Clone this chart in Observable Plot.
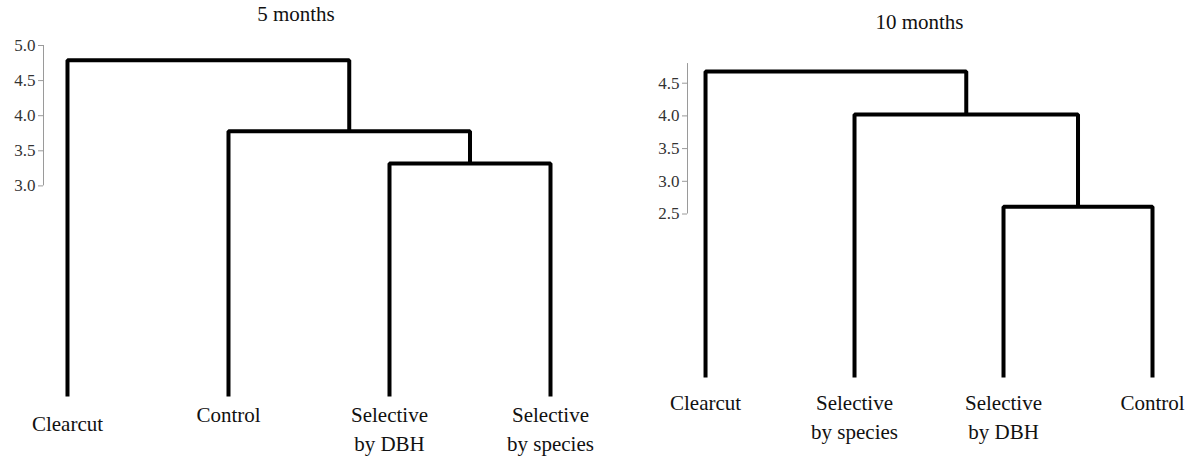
<!DOCTYPE html>
<html>
<head>
<meta charset="utf-8">
<script src="https://cdn.jsdelivr.net/npm/d3@7"></script>
<script src="https://cdn.jsdelivr.net/npm/@observablehq/plot@0.6"></script>
<style>
  html, body { margin: 0; padding: 0; background: #fff; font-family: 'Liberation Serif', serif; }
  #wrap { position: relative; width: 1194px; height: 456px; overflow: hidden; }
  #p5 { position: absolute; left: 0; top: 0; width: 597px; height: 456px; }
  #p10 { position: absolute; left: 597px; top: 0; width: 597px; height: 456px; }
  #titles { position: absolute; left: 0; top: 0; }
</style>
</head>
<body>
<div id="wrap">
  <div id="p5"></div>
  <div id="p10"></div>
  <svg id="titles" width="1194" height="40">
    <text id="t5" x="296" y="21" text-anchor="middle" font-family="Liberation Serif" font-size="21" fill="#111">5 months</text>
    <text id="t10" x="919.5" y="29" text-anchor="middle" font-family="Liberation Serif" font-size="21" fill="#111">10 months</text>
  </svg>
</div>
<script>
// ---- 5 months ----
const title5 = "5 months";
const leaves5 = ["Clearcut", "Control", "Selective\nby DBH", "Selective\nby species"];
const mergeA5 = [2, 1, 0];       // cluster ids (0..3 leaves, 4+ merged clusters)
const mergeB5 = [3, 4, 5];
const height5 = [3.32, 3.78, 4.79];
const ticks5 = [3.0, 3.5, 4.0, 4.5, 5.0];

// ---- 10 months ----
const title10 = "10 months";
const leaves10 = ["Clearcut", "Selective\nby species", "Selective\nby DBH", "Control"];
const mergeA10 = [2, 1, 0];
const mergeB10 = [3, 4, 5];
const height10 = [2.61, 4.02, 4.68];
const ticks10 = [2.5, 3.0, 3.5, 4.0, 4.5];
const axisTop10 = 4.8;

const SERIF = "Liberation Serif";

document.getElementById("t5").textContent = title5;
document.getElementById("t10").textContent = title10;

function buildLinks(leaves, mergeA, mergeB, heights) {
  const pos = leaves.map((_, i) => ({x: i, y: 0}));
  const rows = [];
  mergeA.forEach((a, k) => {
    const b = mergeB[k], h = heights[k];
    const A = pos[a], B = pos[b];
    rows.push({id: k, x: A.x, y: A.y}, {id: k, x: A.x, y: h},
              {id: k, x: B.x, y: h}, {id: k, x: B.x, y: B.y});
    pos.push({x: (A.x + B.x) / 2, y: h});
  });
  return rows;
}

function panel({leaves, mergeA, mergeB, heights, ticks, axisTop, xMin,
                marginLeft, marginRight, marginTop, marginBottom, labelDy, firstLabelDy}) {
  const links = buildLinks(leaves, mergeA, mergeB, heights);
  const leafRows = leaves.map((name, i) => ({name, i}));
  const special = firstLabelDy != null;
  return Plot.plot({
    width: 597,
    height: 456,
    marginLeft, marginRight, marginTop, marginBottom,
    x: {domain: [xMin, leaves.length - 1], axis: null},
    y: {domain: [0, 5], axis: null},
    marks: [
      Plot.ruleX([xMin], {y1: d3.min(ticks), y2: axisTop, stroke: "#9a9a9a", strokeWidth: 1}),
      Plot.axisY({ticks, label: null, tickSize: 5, tickPadding: 3, stroke: "#9a9a9a", fill: "#333",
                  fontSize: 17, fontFamily: SERIF, tickFormat: d3.format(".1f")}),
      Plot.line(links, {x: "x", y: "y", z: "id", stroke: "#000", strokeWidth: 4,
                        strokeLinejoin: "miter", strokeLinecap: "butt"}),
      Plot.text(leafRows.filter(d => !(special && d.i === 0)),
                {x: "i", y: 0, text: "name", fontSize: 21, fontFamily: SERIF, fill: "#111",
                 lineAnchor: "top", lineHeight: 1.38, dy: labelDy}),
      ...(special ? [Plot.text(leafRows.filter(d => d.i === 0),
            {x: "i", y: 0, text: "name", fontSize: 21, fontFamily: SERIF, fill: "#111",
             lineAnchor: "top", dy: firstLabelDy})] : [])
    ]
  });
}

function mount(id, chart) {
  // strip Plot's inline stylesheet and default sans font, then re-parse as markup
  chart.querySelectorAll("style").forEach(s => s.remove());
  chart.removeAttribute("class");
  chart.setAttribute("font-family", SERIF);
  chart.querySelectorAll("[font-family]").forEach(el => el.setAttribute("font-family", SERIF));
  chart.querySelectorAll("text").forEach(el => el.setAttribute("font-family", SERIF));
  chart.querySelectorAll("[font-variant]").forEach(el => el.removeAttribute("font-variant"));
  document.getElementById(id).innerHTML = chart.outerHTML;
}

mount("p5", panel({
  leaves: leaves5, mergeA: mergeA5, mergeB: mergeB5, heights: height5,
  ticks: ticks5, axisTop: 5.0, xMin: -0.149,
  marginLeft: 43, marginRight: 47, marginTop: 45, marginBottom: 60,
  labelDy: 5, firstLabelDy: 20
}));
mount("p10", panel({
  leaves: leaves10, mergeA: mergeA10, mergeB: mergeB10, heights: height10,
  ticks: ticks10, axisTop: axisTop10, xMin: -0.121,
  marginLeft: 90, marginRight: 42, marginTop: 50, marginBottom: 79,
  labelDy: 12, firstLabelDy: null
}));
</script>
</body>
</html>
